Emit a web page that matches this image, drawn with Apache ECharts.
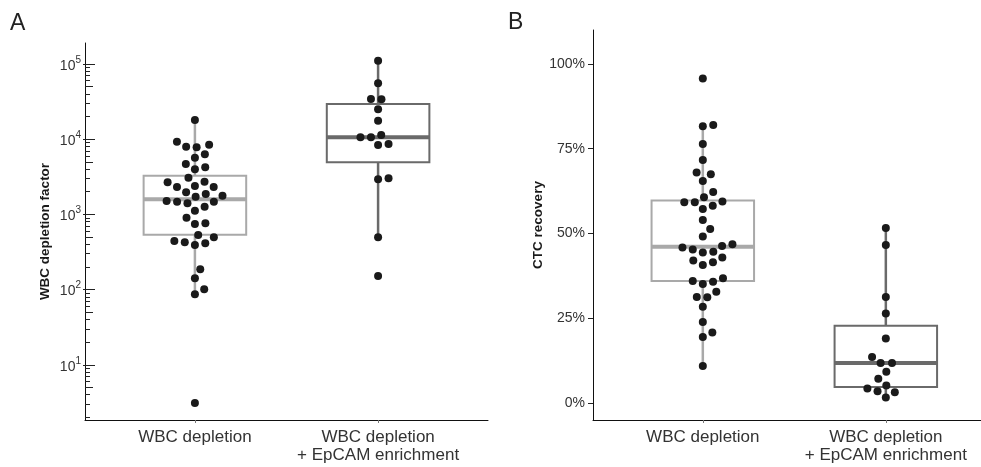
<!DOCTYPE html>
<html>
<head>
<meta charset="utf-8">
<title>WBC depletion / CTC recovery</title>
<script src="https://cdn.jsdelivr.net/npm/echarts@6/dist/echarts.min.js"></script>
<style>
    html, body { margin: 0; padding: 0; background: #fff; }
    #main { width: 981px; height: 467px; }
</style>
</head>
<body>
<div id="main"></div>
<script>
var groups = ["WBC depletion", "WBC depletion\n+ EpCAM enrichment"];

// A - WBC depletion factor (log scale)
var wbcDepletion = [18000, 9270, 8450, 7940, 7800, 6300, 5680, 4680, 4230, 3980,
    3080, 2720, 2670, 2390, 2310, 2310, 1970, 1870, 1770, 1720,
    1510, 1475, 1475, 1405, 1265, 1120, 904, 762, 745, 532,
    497, 443, 426, 413, 392, 186, 141, 101, 87, 3.1];
var wbcEpcam = [110700, 55400, 34200, 33900, 25000, 17600, 11400, 10600, 10600, 8630,
    8370, 3020, 2930, 496, 152];
// [lower whisker, Q1, median, Q3, upper whisker]
var wbcDepletionBox = [87, 535, 1590, 3270, 18000];
var wbcEpcamBox = [496, 4930, 10600, 29400, 110700];

// B - CTC recovery (fraction)
var ctcDepletion = [0.957, 0.820, 0.816, 0.764, 0.717, 0.680, 0.675, 0.655, 0.622, 0.607,
    0.594, 0.592, 0.592, 0.582, 0.572, 0.540, 0.513, 0.491, 0.468, 0.463,
    0.459, 0.453, 0.446, 0.444, 0.429, 0.420, 0.415, 0.407, 0.368, 0.360,
    0.358, 0.351, 0.328, 0.313, 0.312, 0.284, 0.239, 0.208, 0.195, 0.109];
var ctcEpcam = [0.516, 0.466, 0.313, 0.264, 0.190, 0.136, 0.118, 0.118, 0.092, 0.072,
    0.052, 0.043, 0.035, 0.032, 0.016];
var ctcDepletionBox = [0.109, 0.360, 0.461, 0.597, 0.820];
var ctcEpcamBox = [0.016, 0.047, 0.118, 0.228, 0.516];

var logMajor = [10, 100, 1000, 10000, 100000];
var pctTicks = [0, 0.25, 0.5, 0.75, 1];

var logMin = 1.845, logMax = 190000;
// log ticks 2..9 x 10^k (5 x 10^k drawn a bit longer)
var logMid = [], logMinor = [];
for (var k = 0; k <= 5; k++) {
    for (var m = 2; m <= 9; m++) {
        var t = m * Math.pow(10, k);
        if (t < logMin || t > logMax) continue;
        if (m == 5) logMid.push(t); else logMinor.push(t);
    }
}

var lightBox = "#a9a9a9";
var darkBox = "#6a6a6a";
var dotColor = "#1a1a1a";
var font = "'Liberation Sans', Arial, sans-serif";

function logLabel(v) {
    var e = Math.round(Math.log(v) / Math.LN10);
    return "{b|10}{s|" + e + "}";
}

function logAxis(ticks, len, extra) {
    var ax = {
        type: "log", logBase: 10, gridIndex: 0, position: "left",
        min: logMin, max: logMax,
        axisLine: { show: false },
        axisLabel: { show: false },
        splitLine: { show: false },
        axisTick: { show: true, inside: true, length: len, customValues: ticks, lineStyle: { color: "#222", width: 1 } }
    };
    if (extra) {
        for (var key in extra) ax[key] = extra[key];
    }
    return ax;
}

function boxSeries(xi, yi, pos, stats, color) {
    return {
        type: "custom",
        xAxisIndex: xi,
        yAxisIndex: yi,
        z: 2,
        silent: true,
        data: [[pos].concat(stats)],
        encode: { x: 0, y: [1, 2, 3, 4, 5] },
        renderItem: function (params, api) {
            var x = api.value(0);
            var half = 0.28;
            var low = api.coord([x, api.value(1)]);
            var q1 = api.coord([x, api.value(2)]);
            var med = api.coord([x, api.value(3)]);
            var q3 = api.coord([x, api.value(4)]);
            var high = api.coord([x, api.value(5)]);
            var l = api.coord([x - half, api.value(3)])[0];
            var r = api.coord([x + half, api.value(3)])[0];
            return {
                type: "group",
                children: [
                    { type: "line", shape: { x1: low[0], y1: low[1], x2: q1[0], y2: q1[1] }, style: { stroke: color, lineWidth: 2.5 } },
                    { type: "line", shape: { x1: q3[0], y1: q3[1], x2: high[0], y2: high[1] }, style: { stroke: color, lineWidth: 2.5 } },
                    { type: "rect", shape: { x: l, y: q3[1], width: r - l, height: q1[1] - q3[1] }, style: { fill: "none", stroke: color, lineWidth: 2 } },
                    { type: "line", shape: { x1: l, y1: med[1], x2: r, y2: med[1] }, style: { stroke: color, lineWidth: 4 } }
                ]
            };
        }
    };
}

function dotSeries(xi, yi, values, pos, offsets) {
    var data = [];
    for (var i = 0; i < values.length; i++) {
        data.push([pos + (offsets ? offsets[i] : 0), values[i]]);
    }
    return {
        type: "scatter",
        xAxisIndex: xi,
        yAxisIndex: yi,
        z: 5,
        symbolSize: 8,
        itemStyle: { color: dotColor, opacity: 1 },
        data: data
    };
}

// beeswarm ("swarm" method, ascending priority), works in pixels
function swarm(pys, d) {
    var order = pys.map(function (y, i) { return i; });
    order.sort(function (a, b) { return pys[b] - pys[a]; });
    var placed = [];
    var off = [];
    order.forEach(function (i) {
        var y = pys[i];
        var cands = [0];
        placed.forEach(function (p) {
            var dy = Math.abs(p.y - y);
            if (dy < d) {
                var dx = Math.sqrt(d * d - dy * dy);
                cands.push(p.x + dx, p.x - dx);
            }
        });
        cands.sort(function (a, b) { return Math.abs(a) - Math.abs(b); });
        for (var c = 0; c < cands.length; c++) {
            var cx = cands[c];
            var ok = placed.every(function (p) {
                return (p.x - cx) * (p.x - cx) + (p.y - y) * (p.y - y) >= d * d - 0.01;
            });
            if (ok) {
                off[i] = cx;
                placed.push({ x: cx, y: y });
                break;
            }
        }
    });
    return off;
}

var chart = echarts.init(document.getElementById("main"));

function buildOption(offs) {
    return {
        animation: false,
        textStyle: { fontFamily: font },
        graphic: [
            { type: "text", x: 10, y: 24, style: { text: "A", fontSize: 23, fill: "#222", fontFamily: font, align: "left", verticalAlign: "middle" } },
            { type: "text", x: 508, y: 23, style: { text: "B", fontSize: 23, fill: "#222", fontFamily: font, align: "left", verticalAlign: "middle" } }
        ],
        grid: [
            { left: 85, top: 43, width: 403, height: 377 },
            { left: 593, top: 30, width: 388, height: 390 }
        ],
        xAxis: [0, 1].map(function (g) {
            return {
                type: "value",
                gridIndex: g,
                min: 0.4,
                max: g == 0 ? 2.6 : 2.52,
                axisLine: { show: true, onZero: false, lineStyle: { color: "#111", width: 1 } },
                axisTick: { show: true, length: 3, customValues: [1, 2], lineStyle: { color: "#777" } },
                axisLabel: {
                    customValues: [1, 2],
                    formatter: function (v) { return groups[Math.round(v) - 1]; },
                    fontSize: 17, lineHeight: 18.5, color: "#333", margin: 8
                },
                splitLine: { show: false }
            };
        }),
        yAxis: [
            logAxis(logMajor, 2, {
                inside: false,
                axisLine: { show: true, lineStyle: { color: "#111", width: 1 } },
                axisTick: { show: true, length: 2, customValues: logMajor, lineStyle: { color: "#222" } },
                axisLabel: {
                    show: true, customValues: logMajor, formatter: logLabel, margin: 4,
                    rich: {
                        b: { fontSize: 14, color: "#333", lineHeight: 18, verticalAlign: "bottom", fontFamily: font },
                        s: { fontSize: 10, color: "#333", verticalAlign: "top", fontFamily: font }
                    }
                },
                name: "WBC depletion factor",
                nameLocation: "middle",
                nameGap: 33,
                nameRotate: 90,
                nameTextStyle: { fontSize: 13.5, fontWeight: "bold", color: "#1a1a1a" }
            }),
            logAxis(logMajor, 10),
            logAxis(logMid, 8),
            logAxis(logMinor, 5),
            {
                type: "value",
                gridIndex: 1,
                min: -0.05,
                max: 1.10,
                axisLine: { show: true, lineStyle: { color: "#111", width: 1 } },
                axisTick: { show: true, length: 5, customValues: pctTicks, lineStyle: { color: "#222" } },
                axisLabel: {
                    customValues: pctTicks,
                    formatter: function (v) { return Math.round(v * 100) + "%"; },
                    fontSize: 14, color: "#333", margin: 8
                },
                splitLine: { show: false },
                name: "CTC recovery",
                nameLocation: "middle",
                nameGap: 46,
                nameRotate: 90,
                nameTextStyle: { fontSize: 13.5, fontWeight: "bold", color: "#1a1a1a" }
            }
        ],
        series: [
            boxSeries(0, 0, 1, wbcDepletionBox, lightBox),
            boxSeries(0, 0, 2, wbcEpcamBox, darkBox),
            boxSeries(1, 4, 1, ctcDepletionBox, lightBox),
            boxSeries(1, 4, 2, ctcEpcamBox, darkBox),
            dotSeries(0, 0, wbcDepletion, 1, offs[0]),
            dotSeries(0, 0, wbcEpcam, 2, offs[1]),
            dotSeries(1, 4, ctcDepletion, 1, offs[2]),
            dotSeries(1, 4, ctcEpcam, 2, offs[3])
        ]
    };
}

chart.setOption(buildOption([null, null, null, null]));

// turn pixel swarm offsets into x-axis units
function swarmOffsets(xi, yi, values, pos) {
    var finder = { xAxisIndex: xi, yAxisIndex: yi };
    var ref = values[0];
    var unit = chart.convertToPixel(finder, [pos + 1, ref])[0] - chart.convertToPixel(finder, [pos, ref])[0];
    var pys = values.map(function (v) { return chart.convertToPixel(finder, [pos, v])[1]; });
    return swarm(pys, 10.5).map(function (px) { return px / unit; });
}

var offs = [
    swarmOffsets(0, 0, wbcDepletion, 1),
    swarmOffsets(0, 0, wbcEpcam, 2),
    swarmOffsets(1, 4, ctcDepletion, 1),
    swarmOffsets(1, 4, ctcEpcam, 2)
];
chart.setOption(buildOption(offs));
</script>
</body>
</html>
